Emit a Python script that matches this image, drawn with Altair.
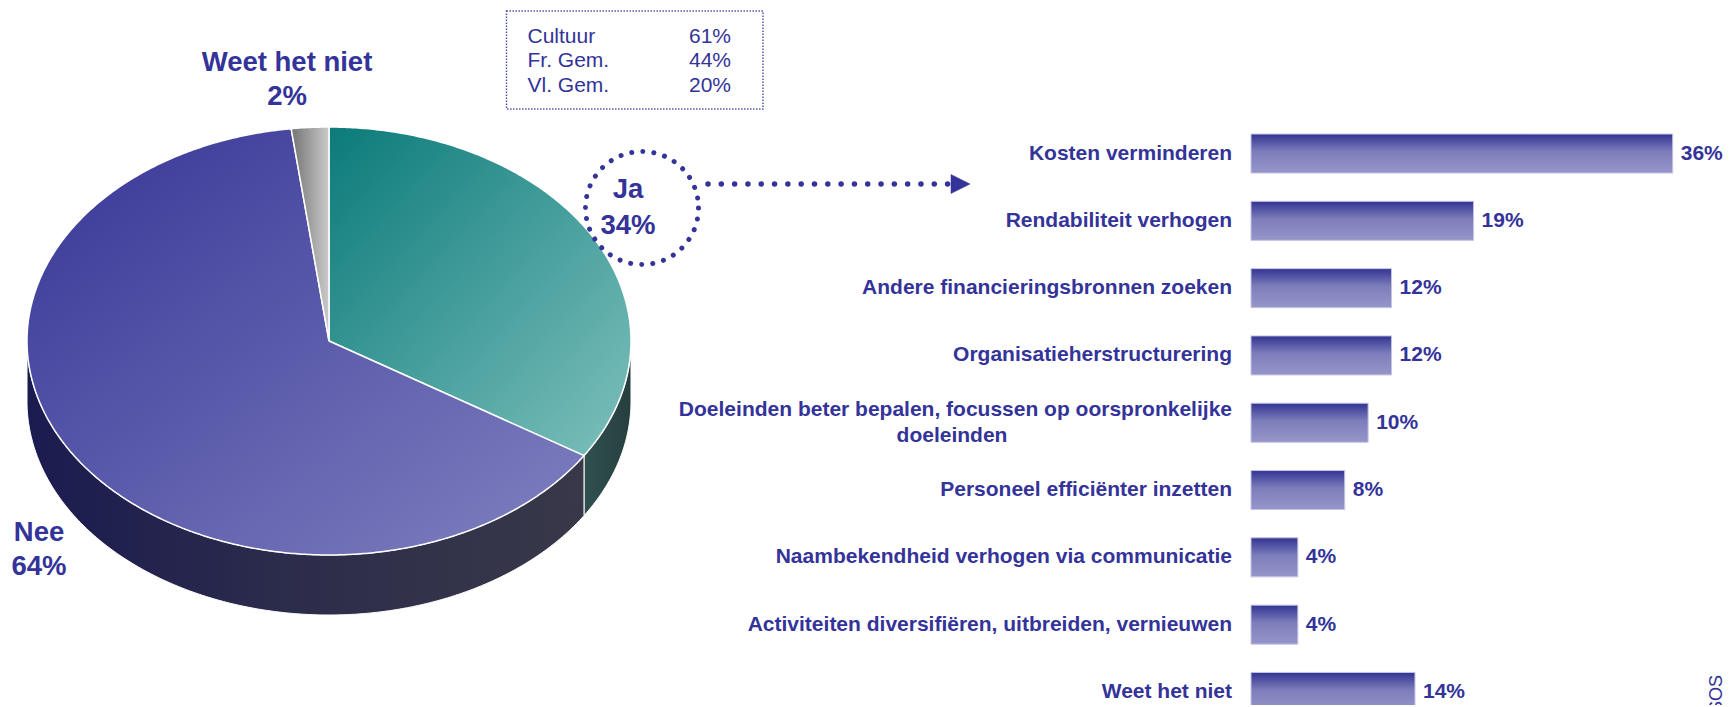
import numpy as np
import pandas as pd
import altair as alt

# ---------------- data ----------------
pie_labels = ["Ja", "Nee", "Weet het niet"]
pie_values = [34, 64, 2]

box_labels = ["Cultuur", "Fr. Gem.", "Vl. Gem."]
box_values = [61, 44, 20]

bar_cats = [
    "Kosten verminderen",
    "Rendabiliteit verhogen",
    "Andere financieringsbronnen zoeken",
    "Organisatieherstructurering",
    "Doeleinden beter bepalen, focussen op oorspronkelijke doeleinden",
    "Personeel efficiënter inzetten",
    "Naambekendheid verhogen via communicatie",
    "Activiteiten diversifiëren, uitbreiden, vernieuwen",
    "Weet het niet",
]
bar_vals = [36, 19, 12, 12, 10, 8, 4, 4, 14]
wrapped = {
    "Doeleinden beter bepalen, focussen op oorspronkelijke doeleinden":
        ("Doeleinden beter bepalen, focussen op oorspronkelijke", "doeleinden"),
}
source_note = "IPSOS"

# ---------------- layout / style ----------------
W, H = 1715, 697
NAVY = "#333399"
FONT = "Liberation Sans"
CX, CY, RX, RY, DEPTH = 321, 333, 302, 214, 60

XS = alt.Scale(domain=[0, W], range=[0, W], nice=False, zero=False)
YS = alt.Scale(domain=[0, H], range=[0, H], nice=False, zero=False)


def px(f):
    return alt.X(f, type="quantitative", scale=XS, axis=None)


def py(f):
    return alt.Y(f, type="quantitative", scale=YS, axis=None)


def grad(stops, x1=0, y1=0, x2=1, y2=1):
    return alt.Gradient(
        gradient="linear", x1=x1, y1=y1, x2=x2, y2=y2,
        stops=[alt.GradientStop(offset=o, color=c) for o, c in stops],
    )


total = float(sum(pie_values))
bounds = np.concatenate([[0], np.cumsum(pie_values)]) / total * 360.0
slices = {lab: (bounds[i], bounds[i + 1]) for i, lab in enumerate(pie_labels)}


def top_poly(a0, a1):
    n = max(3, int((a1 - a0) * 2) + 1)
    t = np.radians(np.linspace(a0, a1, n))
    xs = np.concatenate([[CX], CX + RX * np.sin(t), [CX]])
    ys = np.concatenate([[CY], CY - RY * np.cos(t), [CY]])
    return pd.DataFrame({"px": xs, "py": ys, "i": np.arange(len(xs))})


def side_poly(a0, a1):
    s, e = max(a0, 90.0), min(a1, 270.0)
    if s >= e:
        return None
    n = max(3, int((e - s) * 2) + 1)
    t = np.radians(np.linspace(s, e, n))
    xt = CX + RX * np.sin(t)
    yt = CY - RY * np.cos(t)
    xs = np.concatenate([xt, xt[::-1], xt[:1]])
    ys = np.concatenate([yt, yt[::-1] + DEPTH, yt[:1]])
    return pd.DataFrame({"px": xs, "py": ys, "i": np.arange(len(xs))})


def poly_layer(df, fill, stroke="white", sw=1.5):
    return alt.Chart(df).mark_line(
        filled=True, fill=fill, stroke=stroke, strokeWidth=sw,
        strokeJoin="round", interpolate="linear",
    ).encode(x=px("px"), y=py("py"), order=alt.Order("i:Q"))


top_fill = {
    "Ja": grad([(0, "#0b7b7a"), (1, "#7ec0bc")]),
    "Nee": grad([(0, "#363697"), (1, "#8080c0")]),
    "Weet het niet": grad([(0, "#747474"), (1, "#cacaca")], 0, 0, 1, 0),
}
side_fill = {
    "Ja": grad([(0, "#305050"), (1, "#263f3e")], 0, 0, 1, 0),
    "Nee": grad([(0, "#1b1b50"), (0.5, "#2d2d4b"), (1, "#383849")], 0, 0, 1, 0),
    "Weet het niet": grad([(0, "#555555"), (1, "#777777")], 0, 0, 1, 0),
}

layers = []
for lab in pie_labels:
    d = side_poly(*slices[lab])
    if d is not None:
        layers.append(poly_layer(d, side_fill[lab], sw=1))
for lab in pie_labels:
    layers.append(poly_layer(top_poly(*slices[lab]), top_fill[lab]))

# pie labels
label_pos = {"Weet het niet": (279, 62.5, 97), "Ja": (620, 190, 226), "Nee": (31, 532.5, 567)}
rows = []
for lab, val in zip(pie_labels, pie_values):
    x, y1, y2 = label_pos[lab]
    rows.append({"x": x, "y": y1, "t": lab})
    rows.append({"x": x, "y": y2, "t": f"{val}%"})
layers.append(
    alt.Chart(pd.DataFrame(rows)).mark_text(
        font=FONT, fontSize=27.5, fontWeight="bold", color=NAVY,
        align="center", baseline="alphabetic",
    ).encode(x=px("x"), y=py("y"), text="t:N")
)

# dotted circle around "Ja"
layers.append(
    alt.Chart(pd.DataFrame({"x": [634], "y": [200]})).mark_point(
        shape="circle", size=113 * 113, filled=False, stroke=NAVY, strokeWidth=5,
        strokeDash=[0.01, 11.1], strokeCap="round", opacity=1,
    ).encode(x=px("x"), y=py("y"))
)
# dotted arrow
layers.append(
    alt.Chart(pd.DataFrame({"x": [700], "x2": [944], "y": [176]})).mark_rule(
        stroke=NAVY, strokeWidth=5.5, strokeDash=[0.01, 13.3], strokeCap="round",
    ).encode(x=px("x"), x2="x2:Q", y=py("y"))
)
layers.append(
    alt.Chart(pd.DataFrame({"x": [952.5], "y": [176]})).mark_point(
        shape="M-1,-1L1,0L-1,1Z", size=19 * 19, filled=True, fill=NAVY,
        stroke=NAVY, strokeWidth=0.5, opacity=1,
    ).encode(x=px("x"), y=py("y"))
)

# dotted info box
layers.append(
    alt.Chart(pd.DataFrame({"x": [498.5], "x2": [755], "y": [3], "y2": [101]})).mark_rect(
        fill="white", stroke="#4a4aa6", strokeWidth=1.4, strokeDash=[1.4, 1.6],
    ).encode(x=px("x"), x2="x2:Q", y=py("y"), y2="y2:Q")
)
box_df = pd.DataFrame({
    "lab": box_labels,
    "val": [f"{v}%" for v in box_values],
    "y": [34.7 + 24.5 * i for i in range(len(box_labels))],
    "xl": 519.5,
    "xr": 723,
})
layers.append(
    alt.Chart(box_df).mark_text(font=FONT, fontSize=21, color=NAVY, align="left",
                                baseline="alphabetic").encode(x=px("xl"), y=py("y"), text="lab:N")
)
layers.append(
    alt.Chart(box_df).mark_text(font=FONT, fontSize=21, color=NAVY, align="right",
                                baseline="alphabetic").encode(x=px("xr"), y=py("y"), text="val:N")
)
# source note
layers.append(
    alt.Chart(pd.DataFrame({"x": [1714], "y": [667], "t": [source_note]})).mark_text(
        font=FONT, fontSize=18, color=NAVY, angle=270, align="right", baseline="alphabetic",
    ).encode(x=px("x"), y=py("y"), text="t:N")
)

pie_layer = alt.layer(*layers)

# ---------------- bars ----------------
bar_df = pd.DataFrame({
    "cat": bar_cats,
    "val": bar_vals,
    "pct": [f"{v}%" for v in bar_vals],
    "single": [c if c not in wrapped else "" for c in bar_cats],
    "l1": [wrapped[c][0] if c in wrapped else "" for c in bar_cats],
    "l2": [wrapped[c][1] if c in wrapped else "" for c in bar_cats],
})

BX = alt.Scale(domain=[0, 36], range=[1243, 1664.7], nice=False, zero=False)
BY = alt.Scale(domain=bar_cats, range=[111.9, 717.6], paddingInner=0.42, paddingOuter=0.21)
ycat = alt.Y("cat:N", sort=bar_cats, scale=BY, axis=None)

bar_fill = grad([(0, "#333393"), (0.45, "#7d7dbb"), (1, "#9696cb")], 0, 0, 0, 1)
bars = alt.Chart(bar_df).mark_bar(fill=bar_fill, stroke="#c4c4e4", strokeWidth=1).encode(
    x=alt.X("val:Q", scale=BX, axis=None), x2=alt.datum(0), y=ycat
)
txt = dict(font=FONT, fontSize=21, fontWeight="bold", color=NAVY, baseline="middle")
lab_single = alt.Chart(bar_df).mark_text(align="right", dx=-19, **txt).encode(
    x=alt.X(datum=0, scale=BX, axis=None), y=ycat, text="single:N"
)
lab_l1 = alt.Chart(bar_df).mark_text(align="right", dx=-19, dy=-13, **txt).encode(
    x=alt.X(datum=0, scale=BX, axis=None), y=ycat, text="l1:N"
)
lab_l2 = alt.Chart(bar_df).mark_text(align="center", dx=-299, dy=13.5, **txt).encode(
    x=alt.X(datum=0, scale=BX, axis=None), y=ycat, text="l2:N"
)
val_lab = alt.Chart(bar_df).mark_text(align="left", dx=8, **txt).encode(
    x=alt.X("val:Q", scale=BX, axis=None), y=ycat, text="pct:N"
)
bar_layer = alt.layer(bars, lab_single, lab_l1, lab_l2, val_lab)

chart = (
    alt.layer(pie_layer, bar_layer)
    .resolve_scale(x="independent", y="independent")
    .properties(width=W, height=H, autosize=alt.AutoSizeParams(type="none"), padding=0,
                background="white")
    .configure_view(stroke=None)
)

chart.save("out.html", embed_options={"renderer": "svg", "actions": False})
